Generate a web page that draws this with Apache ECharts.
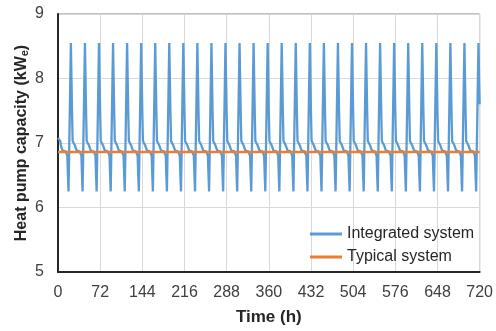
<!DOCTYPE html>
<html>
<head>
<meta charset="utf-8">
<script src="https://cdn.jsdelivr.net/npm/echarts@6/dist/echarts.min.js"></script>
<style>html,body{margin:0;padding:0;background:#fff}#c{width:496px;height:331px}</style>
</head>
<body>
<div id="c"></div>
<script>
// Hourly heat pump capacity, integrated system (kWe), t = 0 .. 720 h
const integratedKW = [
7.08,7.08,7.08,7.08,7.03,6.96,6.96,6.96,6.88,6.87,6.87,6.87,6.87,6.87,6.87,6.87,6.8,6.5,6.25,6.83,7.4,7.98,8.55,8.0,
7.46,7.03,7.03,7.03,7.03,6.96,6.96,6.96,6.88,6.87,6.87,6.87,6.87,6.87,6.87,6.87,6.8,6.5,6.25,6.83,7.4,7.98,8.55,8.0,
7.46,7.03,7.03,7.03,7.03,6.96,6.96,6.96,6.88,6.87,6.87,6.87,6.87,6.87,6.87,6.87,6.8,6.5,6.25,6.83,7.4,7.98,8.55,8.0,
7.46,7.03,7.03,7.03,7.03,6.96,6.96,6.96,6.88,6.87,6.87,6.87,6.87,6.87,6.87,6.87,6.8,6.5,6.25,6.83,7.4,7.98,8.55,8.0,
7.46,7.03,7.03,7.03,7.03,6.96,6.96,6.96,6.88,6.87,6.87,6.87,6.87,6.87,6.87,6.87,6.8,6.5,6.25,6.83,7.4,7.98,8.55,8.0,
7.46,7.03,7.03,7.03,7.03,6.96,6.96,6.96,6.88,6.87,6.87,6.87,6.87,6.87,6.87,6.87,6.8,6.5,6.25,6.83,7.4,7.98,8.55,8.0,
7.46,7.03,7.03,7.03,7.03,6.96,6.96,6.96,6.88,6.87,6.87,6.87,6.87,6.87,6.87,6.87,6.8,6.5,6.25,6.83,7.4,7.98,8.55,8.0,
7.46,7.03,7.03,7.03,7.03,6.96,6.96,6.96,6.88,6.87,6.87,6.87,6.87,6.87,6.87,6.87,6.8,6.5,6.25,6.83,7.4,7.98,8.55,8.0,
7.46,7.03,7.03,7.03,7.03,6.96,6.96,6.96,6.88,6.87,6.87,6.87,6.87,6.87,6.87,6.87,6.8,6.5,6.25,6.83,7.4,7.98,8.55,8.0,
7.46,7.03,7.03,7.03,7.03,6.96,6.96,6.96,6.88,6.87,6.87,6.87,6.87,6.87,6.87,6.87,6.8,6.5,6.25,6.83,7.4,7.98,8.55,8.0,
7.46,7.03,7.03,7.03,7.03,6.96,6.96,6.96,6.88,6.87,6.87,6.87,6.87,6.87,6.87,6.87,6.8,6.5,6.25,6.83,7.4,7.98,8.55,8.0,
7.46,7.03,7.03,7.03,7.03,6.96,6.96,6.96,6.88,6.87,6.87,6.87,6.87,6.87,6.87,6.87,6.8,6.5,6.25,6.83,7.4,7.98,8.55,8.0,
7.46,7.03,7.03,7.03,7.03,6.96,6.96,6.96,6.88,6.87,6.87,6.87,6.87,6.87,6.87,6.87,6.8,6.5,6.25,6.83,7.4,7.98,8.55,8.0,
7.46,7.03,7.03,7.03,7.03,6.96,6.96,6.96,6.88,6.87,6.87,6.87,6.87,6.87,6.87,6.87,6.8,6.5,6.25,6.83,7.4,7.98,8.55,8.0,
7.46,7.03,7.03,7.03,7.03,6.96,6.96,6.96,6.88,6.87,6.87,6.87,6.87,6.87,6.87,6.87,6.8,6.5,6.25,6.83,7.4,7.98,8.55,8.0,
7.46,7.03,7.03,7.03,7.03,6.96,6.96,6.96,6.88,6.87,6.87,6.87,6.87,6.87,6.87,6.87,6.8,6.5,6.25,6.83,7.4,7.98,8.55,8.0,
7.46,7.03,7.03,7.03,7.03,6.96,6.96,6.96,6.88,6.87,6.87,6.87,6.87,6.87,6.87,6.87,6.8,6.5,6.25,6.83,7.4,7.98,8.55,8.0,
7.46,7.03,7.03,7.03,7.03,6.96,6.96,6.96,6.88,6.87,6.87,6.87,6.87,6.87,6.87,6.87,6.8,6.5,6.25,6.83,7.4,7.98,8.55,8.0,
7.46,7.03,7.03,7.03,7.03,6.96,6.96,6.96,6.88,6.87,6.87,6.87,6.87,6.87,6.87,6.87,6.8,6.5,6.25,6.83,7.4,7.98,8.55,8.0,
7.46,7.03,7.03,7.03,7.03,6.96,6.96,6.96,6.88,6.87,6.87,6.87,6.87,6.87,6.87,6.87,6.8,6.5,6.25,6.83,7.4,7.98,8.55,8.0,
7.46,7.03,7.03,7.03,7.03,6.96,6.96,6.96,6.88,6.87,6.87,6.87,6.87,6.87,6.87,6.87,6.8,6.5,6.25,6.83,7.4,7.98,8.55,8.0,
7.46,7.03,7.03,7.03,7.03,6.96,6.96,6.96,6.88,6.87,6.87,6.87,6.87,6.87,6.87,6.87,6.8,6.5,6.25,6.83,7.4,7.98,8.55,8.0,
7.46,7.03,7.03,7.03,7.03,6.96,6.96,6.96,6.88,6.87,6.87,6.87,6.87,6.87,6.87,6.87,6.8,6.5,6.25,6.83,7.4,7.98,8.55,8.0,
7.46,7.03,7.03,7.03,7.03,6.96,6.96,6.96,6.88,6.87,6.87,6.87,6.87,6.87,6.87,6.87,6.8,6.5,6.25,6.83,7.4,7.98,8.55,8.0,
7.46,7.03,7.03,7.03,7.03,6.96,6.96,6.96,6.88,6.87,6.87,6.87,6.87,6.87,6.87,6.87,6.8,6.5,6.25,6.83,7.4,7.98,8.55,8.0,
7.46,7.03,7.03,7.03,7.03,6.96,6.96,6.96,6.88,6.87,6.87,6.87,6.87,6.87,6.87,6.87,6.8,6.5,6.25,6.83,7.4,7.98,8.55,8.0,
7.46,7.03,7.03,7.03,7.03,6.96,6.96,6.96,6.88,6.87,6.87,6.87,6.87,6.87,6.87,6.87,6.8,6.5,6.25,6.83,7.4,7.98,8.55,8.0,
7.46,7.03,7.03,7.03,7.03,6.96,6.96,6.96,6.88,6.87,6.87,6.87,6.87,6.87,6.87,6.87,6.8,6.5,6.25,6.83,7.4,7.98,8.55,8.0,
7.46,7.03,7.03,7.03,7.03,6.96,6.96,6.96,6.88,6.87,6.87,6.87,6.87,6.87,6.87,6.87,6.8,6.5,6.25,6.83,7.4,7.98,8.55,8.0,
7.46,7.03,7.03,7.03,7.03,6.96,6.96,6.96,6.88,6.87,6.87,6.87,6.87,6.87,6.87,6.87,6.8,6.5,6.25,6.83,7.4,7.98,8.55,8.0,
7.6
];
// Typical system: constant capacity
const typicalTimeH = [0, 720];
const typicalKW = [6.86, 6.86];
// Axis ticks
const xTicks = [0, 72, 144, 216, 288, 360, 432, 504, 576, 648, 720];
const yTicks = [5, 6, 7, 8, 9];
const seriesNames = ['Integrated system', 'Typical system'];

const integratedData = integratedKW.map((v, i) => [i, v]);
const typicalData = typicalTimeH.map((t, i) => [t, typicalKW[i]]);

const chart = echarts.init(document.getElementById('c'), null, {renderer: 'canvas'});
const txt = '#404040';
const ff = 'Liberation Sans, Arial, sans-serif';
chart.setOption({
  animation: false,
  backgroundColor: '#fff',
  textStyle: {fontFamily: ff},
  grid: {left: 58, right: 14, top: 14, bottom: 58, show: true, borderColor: '#808080', borderWidth: 1, backgroundColor: 'transparent'},
  xAxis: {
    type: 'value', min: xTicks[0], max: xTicks[xTicks.length - 1], interval: xTicks[1] - xTicks[0],
    name: 'Time (h)', nameLocation: 'middle', nameGap: 37, nameMoveOverlap: false,
    nameTextStyle: {fontSize: 17, fontWeight: 'bold', color: '#262626'},
    axisLine: {show: true, lineStyle: {color: '#262626', width: 2}},
    axisTick: {show: false},
    axisLabel: {fontSize: 16, color: txt, margin: 13},
    splitLine: {show: true, lineStyle: {color: '#d9d9d9', width: 1}}
  },
  yAxis: {
    type: 'value', min: yTicks[0], max: yTicks[yTicks.length - 1], interval: yTicks[1] - yTicks[0],
    name: '{t|Heat pump capacity (kW}{s|e}{t|)}', nameLocation: 'middle', nameGap: 28, nameMoveOverlap: false,
    nameTextStyle: {
      rich: {
        t: {fontSize: 16, fontWeight: 'bold', color: '#262626', fontFamily: ff},
        s: {fontSize: 11, fontWeight: 'bold', color: '#262626', verticalAlign: 'bottom', padding: [6, 0, 0, 0], fontFamily: ff}
      }
    },
    axisLine: {show: true, lineStyle: {color: '#262626', width: 2}},
    axisTick: {show: false},
    axisLabel: {fontSize: 16, color: txt, margin: 14},
    splitLine: {show: true, lineStyle: {color: '#d9d9d9', width: 1}}
  },
  legend: {
    orient: 'vertical', left: 310, top: 226, padding: 0, itemWidth: 32, itemHeight: 3, itemGap: 7, icon: 'rect',
    textStyle: {fontSize: 16, color: '#262626'},
    data: seriesNames
  },
  series: [
    {name: seriesNames[0], type: 'line', data: integratedData, showSymbol: false, symbol: 'none',
     lineStyle: {color: '#5b9bd5', width: 2.3}, itemStyle: {color: '#5b9bd5'}, z: 2},
    {name: seriesNames[1], type: 'line', data: typicalData, showSymbol: false, symbol: 'none',
     lineStyle: {color: '#ed7d31', width: 2.5}, itemStyle: {color: '#ed7d31'}, z: 3}
  ]
});
</script>
</body>
</html>
